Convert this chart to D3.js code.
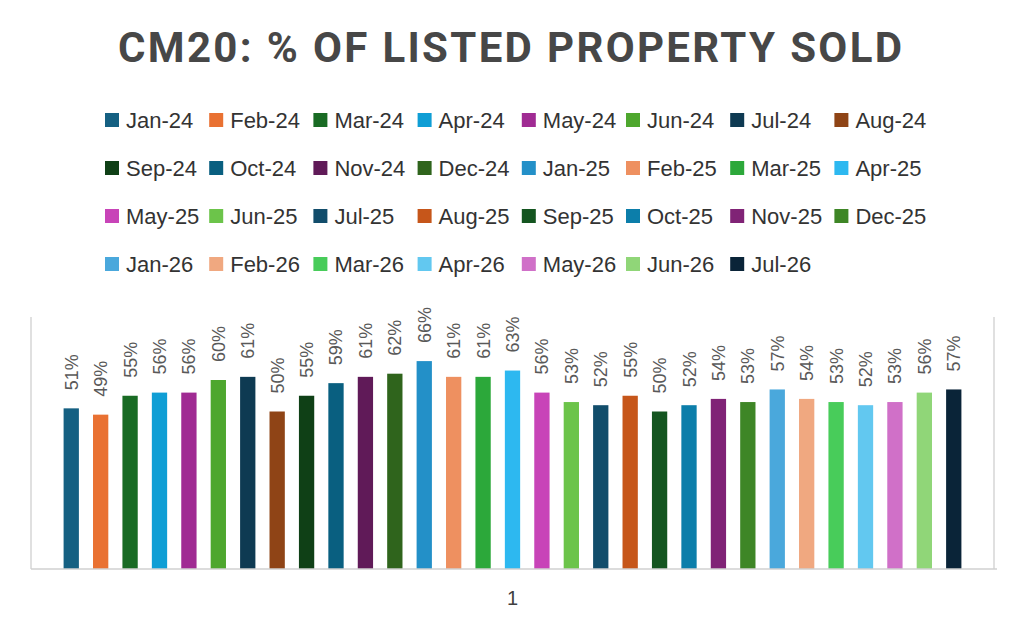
<!DOCTYPE html>
<html>
<head>
<meta charset="utf-8">
<script src="https://cdn.jsdelivr.net/npm/d3@7/dist/d3.min.js"></script>
<style>
  html, body { margin: 0; padding: 0; background: #fff; }
  svg { display: block; }
</style>
</head>
<body>
<svg id="chart" width="1024" height="628"></svg>
<script>
const titleText = "CM20: % OF LISTED PROPERTY SOLD";
const categories = ["1"];
const seriesNames = ["Jan-24","Feb-24","Mar-24","Apr-24","May-24","Jun-24","Jul-24","Aug-24",
  "Sep-24","Oct-24","Nov-24","Dec-24","Jan-25","Feb-25","Mar-25","Apr-25",
  "May-25","Jun-25","Jul-25","Aug-25","Sep-25","Oct-25","Nov-25","Dec-25",
  "Jan-26","Feb-26","Mar-26","Apr-26","May-26","Jun-26","Jul-26"];
const seriesValues = [0.51,0.49,0.55,0.56,0.56,0.60,0.61,0.50,
  0.55,0.59,0.61,0.62,0.66,0.61,0.61,0.63,
  0.56,0.53,0.52,0.55,0.50,0.52,0.54,0.53,
  0.57,0.54,0.53,0.52,0.53,0.56,0.57];
const seriesColors = ["#156082","#E97132","#196B24","#0F9ED5","#A02B93","#4EA72E","#0E3A52","#8F4416",
  "#0F4016","#095F80","#601A58","#2F641C","#2390C8","#EE9060","#2CA83A","#2DB8F0",
  "#C844B8","#6CC44A","#124D6B","#C6561A","#145520","#0C7EAA","#802376","#3E8626",
  "#4AA8DC","#F0A880","#48CC5A","#62C8F0","#D070C8","#90D678","#0A2438"];
const yDomain = [0, 0.8];

const svg = d3.select("#chart");

// Title
svg.append("text")
  .attr("x", 510).attr("y", 62)
  .attr("text-anchor", "middle")
  .attr("font-family", "Roboto, Liberation Sans, Arial, sans-serif")
  .attr("font-weight", "bold")
  .attr("font-size", 42)
  .attr("fill", "#474747")
  .attr("textLength", 784)
  .attr("lengthAdjust", "spacing")
  .text(titleText);

// Legend
const legCols = 8;
const legX = d3.scaleLinear().domain([0, 1]).range([105, 105 + 104.2]);
const legY = d3.scaleLinear().domain([0, 1]).range([120, 120 + 48]);
const leg = svg.append("g");
seriesNames.forEach((name, i) => {
  const c = i % legCols, r = Math.floor(i / legCols);
  const g = leg.append("g").attr("transform", `translate(${legX(c)},${legY(r)})`);
  g.append("rect").attr("x", 0).attr("y", -7).attr("width", 14).attr("height", 14)
    .attr("fill", seriesColors[i]);
  g.append("text").attr("x", 21).attr("y", 8)
    .attr("font-family", "Liberation Sans, Arial, sans-serif")
    .attr("font-size", 22).attr("fill", "#333")
    .text(name);
});

// Plot area
const plotL = 31, plotR = 994, plotT = 317, plotB = 569;
const y = d3.scaleLinear().domain(yDomain).range([plotB, plotT]);
const x0 = d3.scaleBand().domain(categories).range([plotL, plotR]).paddingInner(0).paddingOuter(0.028);
const x1 = d3.scaleBand().domain(seriesNames).range([0, x0.bandwidth()]).paddingInner(0.48).paddingOuter(0.24);

svg.append("line").attr("x1", plotL).attr("x2", plotL).attr("y1", plotT).attr("y2", plotB)
  .attr("stroke", "#D0D0D0").attr("stroke-width", 1.3);
svg.append("line").attr("x1", plotR).attr("x2", plotR).attr("y1", plotT).attr("y2", plotB)
  .attr("stroke", "#D0D0D0").attr("stroke-width", 1.3);

const bars = svg.append("g");
categories.forEach(cat => {
  seriesNames.forEach((name, i) => {
    const v = seriesValues[i];
    const bx = x0(cat) + x1(name);
    bars.append("rect")
      .attr("x", bx).attr("y", y(v))
      .attr("width", x1.bandwidth()).attr("height", y(0) - y(v))
      .attr("fill", seriesColors[i]);
    const cx = bx + x1.bandwidth() / 2;
    bars.append("text")
      .attr("transform", `translate(${cx + 6.5},${y(v) - 18}) rotate(-90)`)
      .attr("font-family", "Liberation Sans, Arial, sans-serif")
      .attr("font-size", 18).attr("fill", "#595959")
      .text(d3.format(".0%")(v));
  });
});

// x axis
const xAxis = svg.append("g").attr("transform", `translate(0,${plotB})`)
  .call(d3.axisBottom(x0).tickSize(0).tickPadding(22));
xAxis.select(".domain").attr("stroke", "#D0D0D0").attr("stroke-width", 1.3)
  .attr("d", `M${plotL},0H${plotR + 3}`);
xAxis.selectAll("text")
  .attr("font-family", "Liberation Sans, Arial, sans-serif")
  .attr("font-size", 20).attr("fill", "#404040");
</script>
</body>
</html>
